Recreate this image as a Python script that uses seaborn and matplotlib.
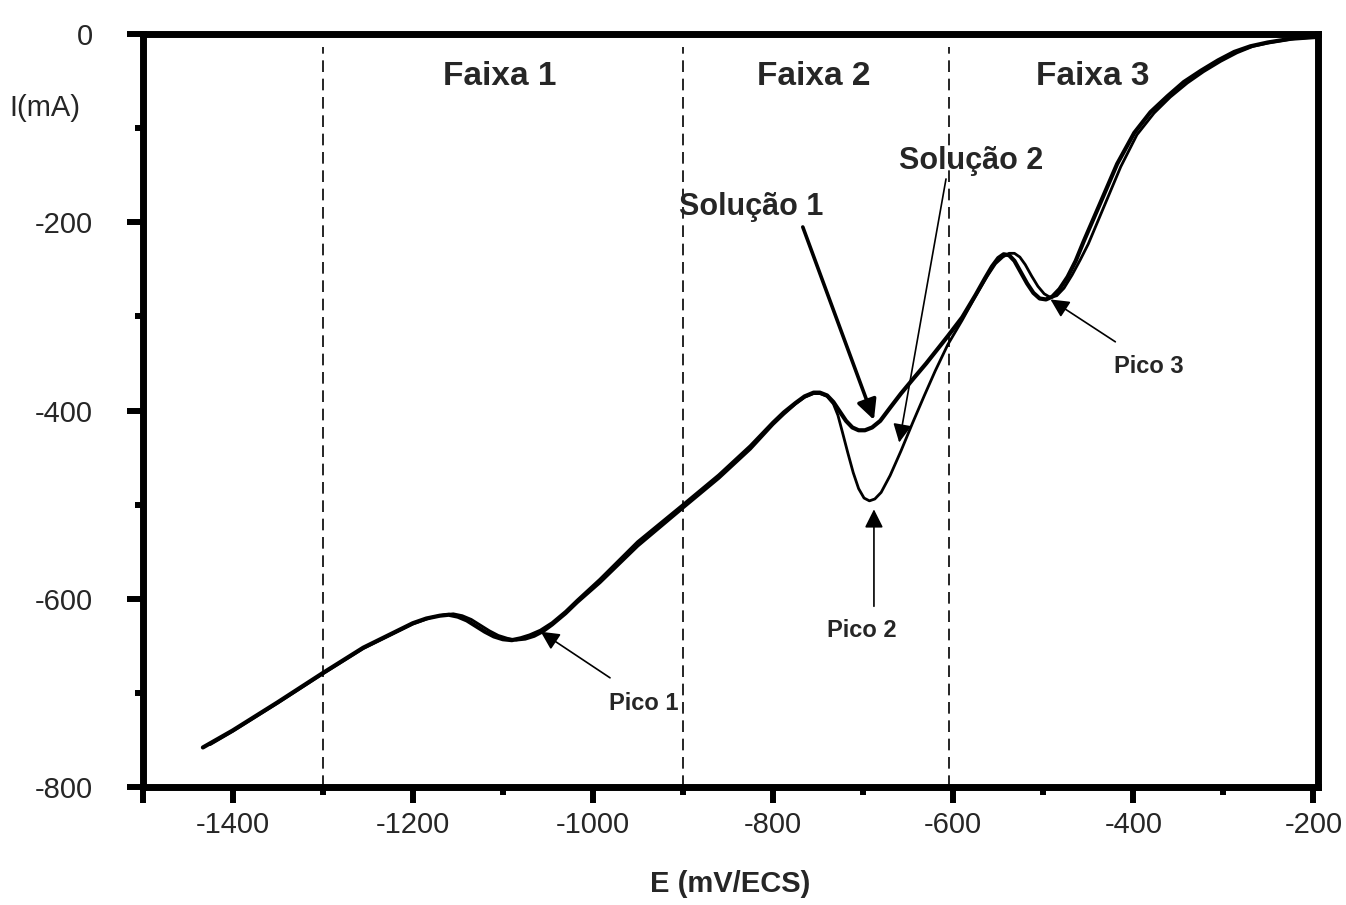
import numpy as np
import pandas as pd
import seaborn as sns
import matplotlib.pyplot as plt

# potential (mV/ECS) and current (mA)
E_sol1 = [-1433, -1400, -1350, -1300, -1255, -1200, -1185, -1170, -1160, -1150,
          -1140, -1130, -1120, -1110, -1100, -1090, -1080, -1070, -1058, -1045,
          -1030, -1017, -992, -950, -899, -860, -825, -800, -788, -775,
          -765, -755, -748, -740, -733, -726, -719, -712, -705, -698,
          -690, -681, -670, -658, -645, -630, -606, -590, -575, -565,
          -557, -550, -544, -538, -532, -525, -518, -511, -504, -497,
          -490, -482, -473, -464, -455, -436, -418, -399, -381, -362,
          -344, -325, -306, -288, -270, -251, -225, -195]
I_sol1 = [-758, -740, -710, -679, -652, -626, -621, -618, -617, -619,
          -623, -629, -635, -640, -643, -644, -642, -639, -634, -626,
          -614, -602, -580, -540, -500, -469, -438, -413, -402, -392,
          -385, -381, -381, -384, -391, -401, -411, -418, -421, -421,
          -418, -411, -397, -382, -367, -350, -321, -301, -277, -260,
          -247, -238, -234, -235, -241, -253, -265, -275, -281, -282,
          -279, -271, -258, -241, -220, -178, -138, -105, -83, -66,
          -51, -39, -28, -19, -13, -9, -5, -3]

E_sol2 = [-1425, -1400, -1350, -1300, -1255, -1200, -1180, -1165, -1155, -1145,
          -1135, -1125, -1115, -1105, -1095, -1085, -1075, -1065, -1055, -1045,
          -1030, -1017, -992, -950, -899, -860, -825, -800, -788, -775,
          -765, -755, -748, -740, -733, -728, -723, -717, -711, -705,
          -699, -693, -687, -680, -670, -658, -645, -632, -620, -606,
          -590, -575, -562, -553, -545, -538, -532, -526, -520, -513,
          -506, -499, -492, -485, -477, -468, -459, -450, -432, -414,
          -396, -377, -359, -340, -322, -303, -285, -267, -248, -222, -195]
I_sol2 = [-755, -741, -711, -680, -653, -627, -620, -617, -616, -618,
          -622, -628, -634, -639, -642, -644, -643, -640, -635, -628,
          -616, -604, -583, -544, -503, -472, -441, -415, -404, -393,
          -386, -382, -382, -385, -393, -405, -423, -445, -466, -483,
          -493, -496, -494, -487, -469, -443, -413, -384, -358, -330,
          -304, -278, -257, -244, -237, -233, -233, -237, -245, -257,
          -268, -276, -280, -278, -270, -256, -240, -223, -182, -141,
          -107, -84, -67, -52, -40, -29, -20, -13, -9, -5, -3]

faixa_limits = [-1300, -900, -605]
faixa_labels = ['Faixa 1', 'Faixa 2', 'Faixa 3']
pico_labels = ['Pico 1', 'Pico 2', 'Pico 3']

df1 = pd.DataFrame({'E': E_sol1, 'I': I_sol1})
df2 = pd.DataFrame({'E': E_sol2, 'I': I_sol2})

sns.set_style('ticks')
plt.rcParams['font.family'] = ['Liberation Sans', 'DejaVu Sans']
plt.rcParams['axes.unicode_minus'] = False

fig = plt.figure(figsize=(13.46, 9.05), dpi=100)
ax = fig.add_axes([0.1059, 0.1304, 0.8733, 0.832])

sns.lineplot(data=df2, x='E', y='I', ax=ax, color='black', lw=2.0,
             sort=False, estimator=None)
sns.lineplot(data=df1, x='E', y='I', ax=ax, color='black', lw=3.0,
             sort=False, estimator=None)

for xv in faixa_limits:
    ax.axvline(xv, ymin=0, ymax=0.983, color='black', lw=1.2,
               ls=(0, (7, 4)), zorder=1)

ax.set_xlim(-1500, -195)
ax.set_ylim(-800, 0)

# ticks
ax.set_xticks([-1500, -1400, -1200, -1000, -800, -600, -400, -200])
ax.set_xticklabels(['', '-1400', '-1200', '-1000', '-800', '-600', '-400', '-200'])
ax.set_xticks(np.arange(-1300, -299, 200), minor=True)
ax.set_yticks(np.arange(-800, 1, 200))
ax.set_yticks(np.arange(-700, 0, 200), minor=True)
ax.tick_params(axis='both', which='major', direction='out', length=11.5,
               width=4.3, labelsize=21, color='black')
ax.tick_params(axis='both', which='minor', direction='out', length=5.8,
               width=4.3, color='black')
ax.tick_params(axis='x', which='major', pad=6)
ax.tick_params(axis='y', which='major', pad=24)

for side in ['left', 'right', 'top', 'bottom']:
    ax.spines[side].set_visible(True)
    ax.spines[side].set_linewidth(5)
    ax.spines[side].set_color('black')

ax.set_xlabel('E (mV/ECS)', fontsize=21, fontweight='bold', labelpad=22)
ax.set_ylabel('I(mA)', fontsize=21, rotation=0, ha='center', va='center')
ax.yaxis.set_label_coords(-0.083, 0.902)

# region labels
for xpos, lab in zip([-1103, -755, -445], faixa_labels):
    ax.text(xpos, -45, lab, fontsize=24, fontweight='bold',
            ha='center', va='center')

# solution labels and arrows
ax.text(-824, -184, 'Solução 1', fontsize=22, fontweight='bold',
        ha='center', va='center')
ax.annotate('', xy=(-688, -410), xytext=(-767, -205),
            arrowprops=dict(arrowstyle='-|>', color='black', lw=2.6,
                            mutation_scale=30, shrinkA=0, shrinkB=0))
ax.text(-580, -135, 'Solução 2', fontsize=22, fontweight='bold',
        ha='center', va='center')
ax.annotate('', xy=(-660, -434), xytext=(-608, -154),
            arrowprops=dict(arrowstyle='-|>', color='black', lw=1.2,
                            mutation_scale=28, shrinkA=0, shrinkB=0))

# peak labels and arrows
pico_text = [(-944, -711), (-701, -634), (-383, -353)]
pico_tail = [(-981, -684), (-688, -608), (-420, -327)]
pico_tip = [(-1058, -635), (-688, -505), (-492, -282)]
for lab, tp, tl, tip in zip(pico_labels, pico_text, pico_tail, pico_tip):
    ax.text(tp[0], tp[1], lab, fontsize=17, fontweight='bold',
            ha='center', va='center')
    ax.annotate('', xy=tip, xytext=tl,
                arrowprops=dict(arrowstyle='-|>', color='black', lw=1.2,
                                mutation_scale=28, shrinkA=0, shrinkB=0))

fig.savefig('out.png', dpi=100)
